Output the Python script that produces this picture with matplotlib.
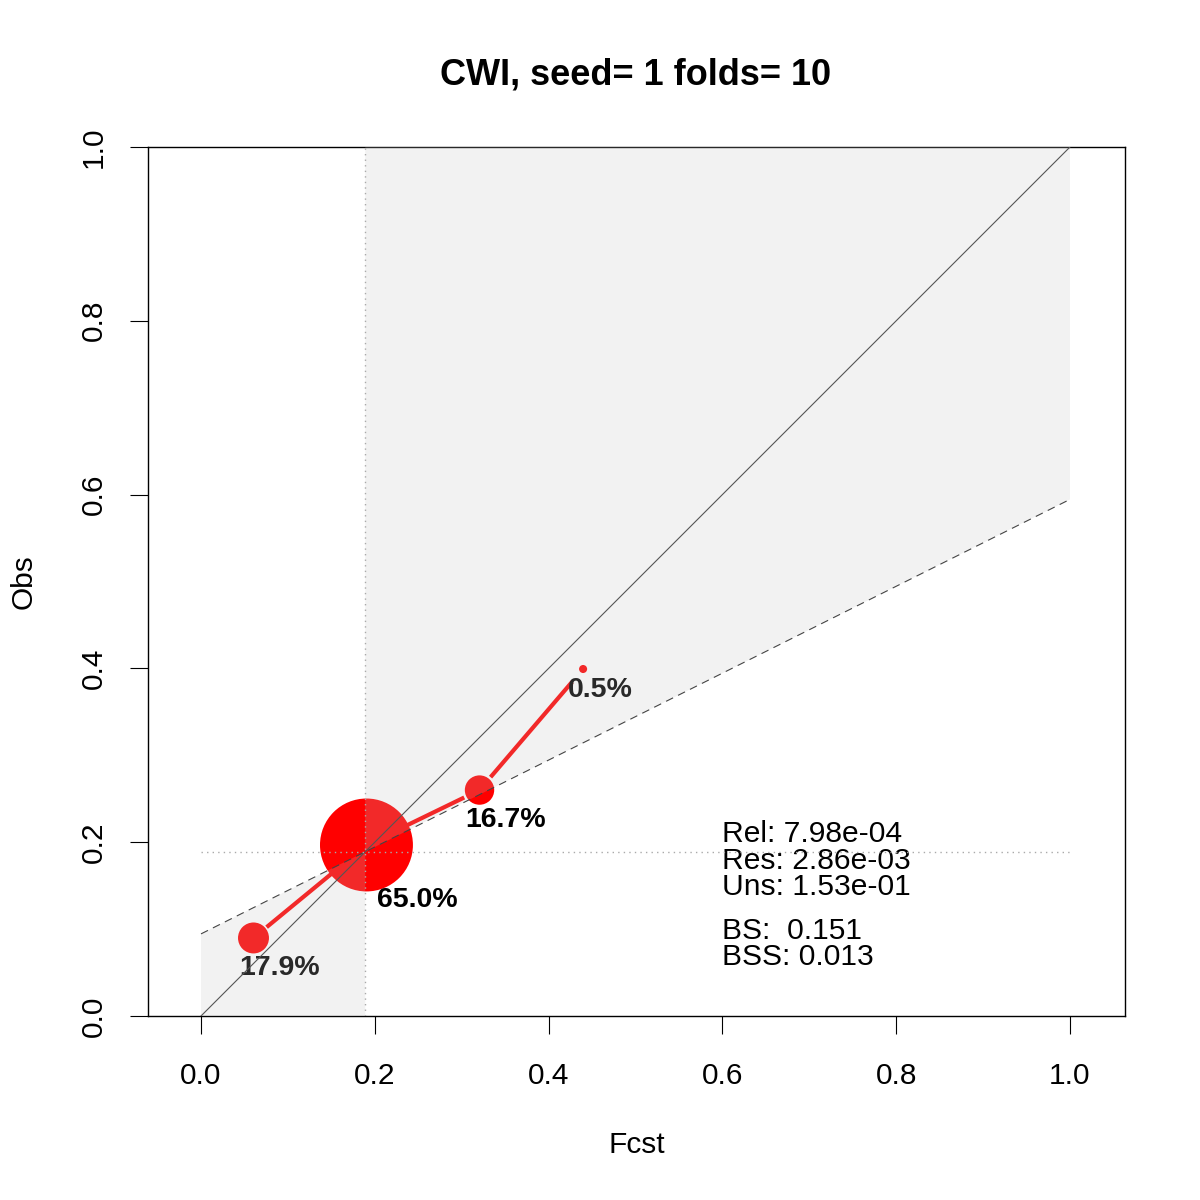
import matplotlib
matplotlib.use("Agg")
import matplotlib.pyplot as plt
import numpy as np

plt.rcParams['font.family'] = ['Liberation Sans', 'DejaVu Sans']

# ---- data ----
title = "CWI, seed= 1 folds= 10"
fcst_mean = [0.0604, 0.1904, 0.3205, 0.4397]
obs_freq = [0.0898, 0.1968, 0.2600, 0.3993]
bin_pct = [17.9, 65.0, 16.7, 0.5]
pct_labels = ["17.9%", "65.0%", "16.7%", "0.5%"]
clim = 0.189
stats_block1 = ["Rel: 7.98e-04", "Res: 2.86e-03", "Uns: 1.53e-01"]
stats_block2 = ["BS:  0.151", "BSS: 0.013"]
xticks = [0.0, 0.2, 0.4, 0.6, 0.8, 1.0]
yticks = [0.0, 0.2, 0.4, 0.6, 0.8, 1.0]

W = H = 1200
DPI = 100
fig = plt.figure(figsize=(W / DPI, H / DPI), dpi=DPI)
ax = fig.add_axes([148 / W, 184 / H, 977 / W, 869 / H])
xlim = (-0.061, 1.0633)
ax.set_xlim(*xlim)
ax.set_ylim(0, 1)

px_per_unit_x = 977 / (xlim[1] - xlim[0])
px_per_unit_y = 869 / 1.0
pt_per_px = 72 / DPI

# reference lines
ax.plot([0, 1], [0, 1], color="#555555", lw=0.8, zorder=4)
ax.plot([0, 1], [clim / 2, (1 + clim) / 2], color="#444444", lw=0.8,
        linestyle=(0, (7, 5)), zorder=4)
ax.plot([0, 1], [clim, clim], color="#aaaaaa", lw=1.0, linestyle=(0, (1, 3)), zorder=4)
ax.plot([clim, clim], [0, 1], color="#aaaaaa", lw=1.0, linestyle=(0, (1, 3)), zorder=4)

# reliability line with gaps at points (type="b")
gap_px = 17
for i in range(len(fcst_mean) - 1):
    x0, y0 = fcst_mean[i], obs_freq[i]
    x1, y1 = fcst_mean[i + 1], obs_freq[i + 1]
    dxp = (x1 - x0) * px_per_unit_x
    dyp = (y1 - y0) * px_per_unit_y
    L = np.hypot(dxp, dyp)
    ux, uy = dxp / L, dyp / L
    ax.plot([x0 + ux * gap_px / px_per_unit_x, x1 - ux * gap_px / px_per_unit_x],
            [y0 + uy * gap_px / px_per_unit_y, y1 - uy * gap_px / px_per_unit_y],
            color="#ff0000", lw=3.0, solid_capstyle="butt", zorder=2)

# circles sized by bin frequency
r_px = [3.7 + 0.658 * p for p in bin_pct]
sizes = [(2 * r * pt_per_px) ** 2 for r in r_px]
ax.scatter(fcst_mean, obs_freq, s=sizes, color="#ff0000", edgecolors="none", zorder=2)

# percentage labels
for x, y, lab, r in zip(fcst_mean, obs_freq, pct_labels, r_px):
    offx = (14.2 + 0.79 * r) * pt_per_px
    offy = (18.0 + 0.79 * r) * pt_per_px
    ax.annotate(lab, (x, y), xytext=(offx, -offy), textcoords="offset points",
                ha="center", va="center", fontsize=20.5, fontweight="bold",
                color="black", zorder=2)

# skill shading, drawn on top with transparency
poly_x = [0, 0, clim, clim, 1, 1, clim, clim]
poly_y = [0, clim / 2, clim, 1, 1, (1 + clim) / 2, clim, 0]
ax.fill(poly_x, poly_y, color=(194 / 255, 194 / 255, 194 / 255), alpha=0.21,
        linewidth=0, zorder=3)

# stats text
step = 26.5 / px_per_unit_y
for i, s in enumerate(stats_block1):
    ax.text(0.6, 0.2094 - i * step, s, ha="left", va="center", fontsize=21.6, color="black")
for i, s in enumerate(stats_block2):
    ax.text(0.6, 0.0980 - i * step, s, ha="left", va="center", fontsize=21.6, color="black")

# axes styling
for sp in ax.spines.values():
    sp.set_linewidth(1.0)
    sp.set_color("black")
ax.set_xticks(xticks)
ax.set_xticklabels([f"{v:.1f}" for v in xticks])
ax.set_yticks(yticks)
ax.set_yticklabels([f"{v:.1f}" for v in yticks], rotation=90, va="center")
ax.tick_params(direction="out", length=13, width=0.8, labelsize=21.5, pad=20)
ax.tick_params(axis="y", pad=16)

ax.set_xlabel("Fcst", fontsize=21.5, labelpad=29.5)
ax.set_ylabel("Obs", fontsize=21.5, labelpad=30)
fig.text(636 / W, 1 - 75 / H, title, ha="center", va="center",
         fontsize=26, fontweight="bold")

fig.savefig("out.png", dpi=DPI)
